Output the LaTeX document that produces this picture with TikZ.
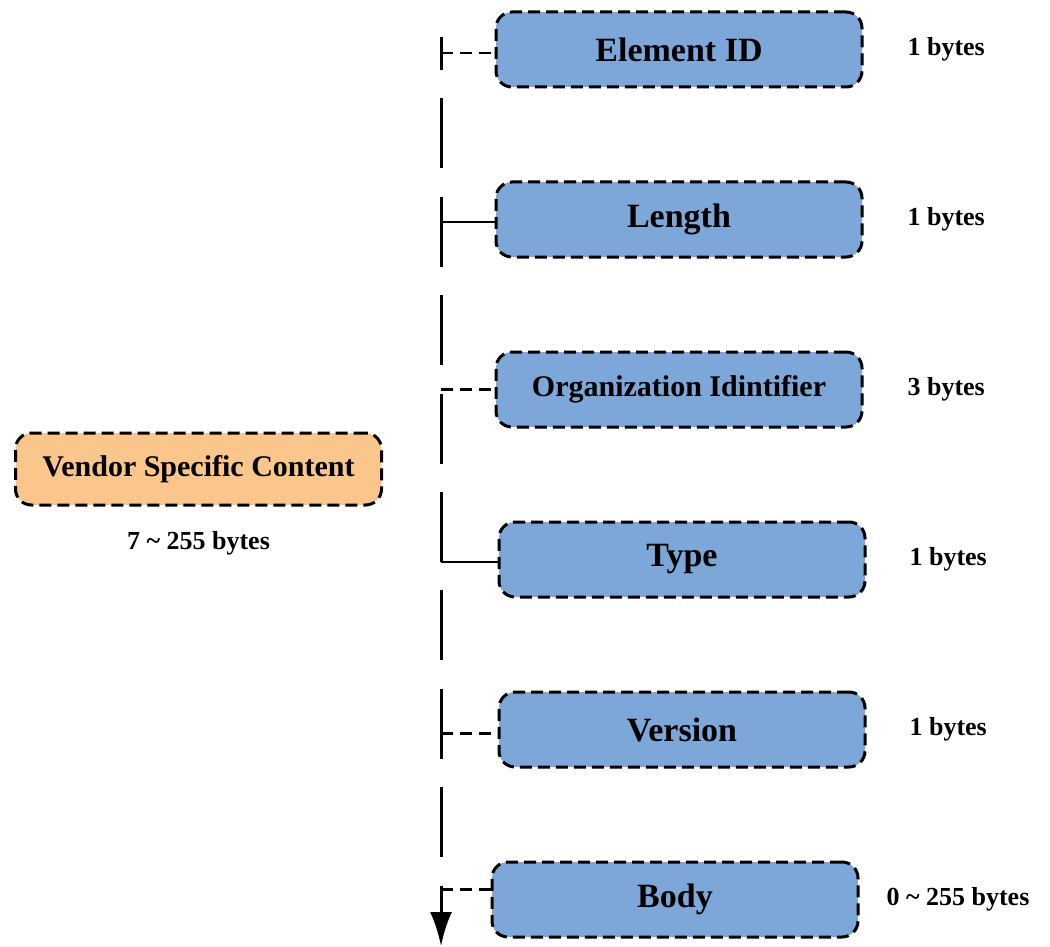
\documentclass[tikz,border=0pt]{standalone}
\usepackage{fontspec}
\setmainfont{Liberation Serif}
\usetikzlibrary{arrows.meta,positioning}
\definecolor{fieldblue}{HTML}{7DA7D9}
\definecolor{vendororange}{HTML}{FAC68C}

\begin{document}
\begin{tikzpicture}[
  x=0.5pt, y=-0.5pt,
  node distance=46pt,
  >=Latex,
  field/.style={draw, line width=1.5pt, dash pattern=on 6pt off 3pt,
                rounded corners=8pt, fill=fieldblue, align=center,
                minimum width=183pt, minimum height=37.5pt,
                font=\bfseries\fontsize{17}{20}\selectfont},
  vendor/.style={field, fill=vendororange, minimum height=36pt,
                 font=\bfseries\fontsize{15}{18}\selectfont},
  sizelbl/.style={font=\bfseries\fontsize{13}{15}\selectfont},
  link/.style={line width=1.4pt},
  dlink/.style={link, dash pattern=on 6pt off 3.5pt},
  spine/.style={line width=1.5pt, dash pattern=on 35pt off 14.2pt,
                dash phase=18.5pt, -{Latex[length=17pt,width=11pt]}}
]
\useasboundingbox (0,0) rectangle (1050,947);

% Fields of the element
\node[field] (elem) at (679,49.5) {Element ID};
\node[field, below=of elem] (len) {Length};
\node[field, below=of len, font=\bfseries\fontsize{15}{18}\selectfont] (org) {Organization Idintifier};
\node[field, below=of org, xshift=1.5pt] (type) {Type};
\node[field, below=of type] (ver) {Version};
\node[field, below=of ver, xshift=-3.5pt] (body) {Body};

% Sizes
\node[sizelbl, right=18.5pt of elem] (elemsz) {1 bytes};
\node[sizelbl, right=18.5pt of len] (lensz) {1 bytes};
\node[sizelbl, right=18.5pt of org] (orgsz) {3 bytes};
\node[sizelbl, right=18pt of type] (typesz) {1 bytes};
\node[sizelbl, right=18pt of ver] (versz) {1 bytes};
\node[sizelbl, right=10pt of body] (bodysz) {0 \textasciitilde{} 255 bytes};

% Whole element
\node[vendor] (vsc) at (198.5,469) {Vendor Specific Content};
\node[sizelbl, below=9pt of vsc] (vscsz) {7 \textasciitilde{} 255 bytes};

% Spine and links
\coordinate (spinetop) at (441,37);
\coordinate (spinebot) at (441,946);
\draw[spine] (spinetop) -- (spinebot);

\coordinate (elemin) at ([yshift=-1.75pt]elem.west);
\coordinate (lenin) at ([yshift=-1.25pt]len.west);
\coordinate (orgin) at (org.west);
\coordinate (typein) at ([yshift=-1.25pt]type.west);
\coordinate (verin) at ([yshift=-2pt]ver.west);
\coordinate (bodyin) at ([yshift=5pt]body.west);

\draw[dlink] (spinetop |- elemin) -- (elemin);
\draw[link] (spinetop |- lenin) -- (lenin);
\draw[dlink] (spinetop |- orgin) -- (orgin);
\draw[link] (spinetop |- typein) -- (typein);
\draw[dlink] (spinetop |- verin) -- (verin);
\draw[dlink] (spinetop |- bodyin) -- (bodyin);
\end{tikzpicture}
\end{document}
